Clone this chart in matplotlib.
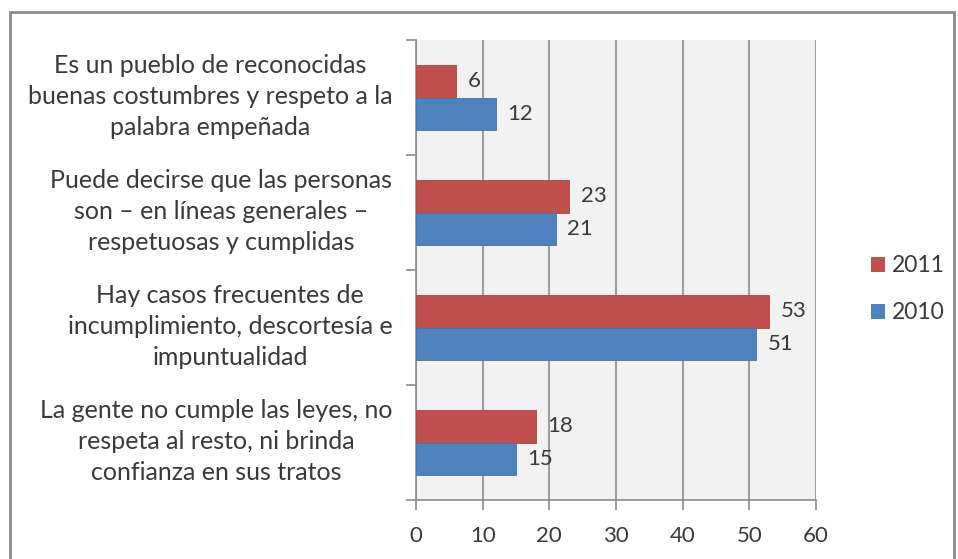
import matplotlib.pyplot as plt
import matplotlib.transforms as mtransforms
from matplotlib.patches import Rectangle
import numpy as np

plt.rcParams['font.family'] = ['Lato', 'DejaVu Sans']

# categories, top to bottom
categories = [
    'Es un pueblo de reconocidas\nbuenas costumbres y respeto a la\npalabra empeñada',
    'Puede decirse que las personas\nson – en líneas generales –\nrespetuosas y cumplidas',
    'Hay casos frecuentes de\nincumplimiento, descortesía e\nimpuntualidad',
    'La gente no cumple las leyes, no\nrespeta al resto, ni brinda\nconfianza en sus tratos',
]
vals_2011 = [6, 23, 53, 18]
vals_2010 = [12, 21, 51, 15]
x_ticks = [0, 10, 20, 30, 40, 50, 60]

red = '#C0504D'
blue = '#4F81BD'
txt = '#3A3A3A'
grid_c = '#8C8C8C'

fig = plt.figure(figsize=(9.58, 5.59), dpi=100)
ax = fig.add_axes([416 / 958, 1 - 500 / 559, 400 / 958, 460 / 559])
ax.set_facecolor('#F2F2F2')

y = np.arange(len(categories))
h = 0.285
ax.barh(y - h / 2, vals_2011, height=h, color=red, edgecolor='#B04440', linewidth=0.6, label='2011', zorder=3)
ax.barh(y + h / 2, vals_2010, height=h, color=blue, edgecolor='#4472AC', linewidth=0.6, label='2010', zorder=3)

for yi, v in zip(y, vals_2011):
    ax.text(v + 1.7, yi - h / 2, str(v), va='center', ha='left', fontsize=16, color=txt, zorder=4)
for yi, v in zip(y, vals_2010):
    ax.text(v + 1.7, yi + h / 2, str(v), va='center', ha='left', fontsize=16, color=txt, zorder=4)

ax.set_xlim(0, 60)
ax.set_ylim(len(categories) - 0.5, -0.5)
ax.set_xticks(x_ticks)
ax.set_xticklabels([str(t) for t in x_ticks], fontsize=16, color=txt)
ax.set_yticks(y)
ax.set_yticklabels(categories, fontsize=18, color=txt, ha='right', multialignment='center', linespacing=1.42)
ax.set_yticks(np.arange(len(categories) + 1) - 0.5, minor=True)
ax.tick_params(axis='y', which='major', length=0, pad=17)
ax.tick_params(axis='y', which='minor', length=7, color=grid_c, width=1.2)
ax.tick_params(axis='x', length=7, color=grid_c, width=1.2, pad=12)

# nudge the category labels up a little
shift = mtransforms.ScaledTranslation(0, 5 / 72, fig.dpi_scale_trans)
for lab in ax.get_yticklabels():
    lab.set_transform(lab.get_transform() + shift)

ax.grid(axis='x', color=grid_c, linewidth=1.2, zorder=0)
ax.set_axisbelow(True)
for s in ['top', 'right']:
    ax.spines[s].set_visible(False)
for s in ['left', 'bottom']:
    ax.spines[s].set_color(grid_c)
    ax.spines[s].set_linewidth(1.2)

handles, labels = ax.get_legend_handles_labels()
fig.legend(handles, labels, loc='center left', bbox_to_anchor=(871 / 958, 1 - 289 / 559),
           frameon=False, fontsize=16.5, handlelength=0.55, handleheight=0.55, handletextpad=0.35,
           labelspacing=1.15, labelcolor=txt, borderpad=0, borderaxespad=0)

# outer chart border
fig.add_artist(Rectangle((10 / 958, -0.05), 944 / 958, 1.05 - 12 / 559, transform=fig.transFigure,
                         fill=False, edgecolor='#8C8C8C', linewidth=2))

fig.savefig('out.png', dpi=100)
